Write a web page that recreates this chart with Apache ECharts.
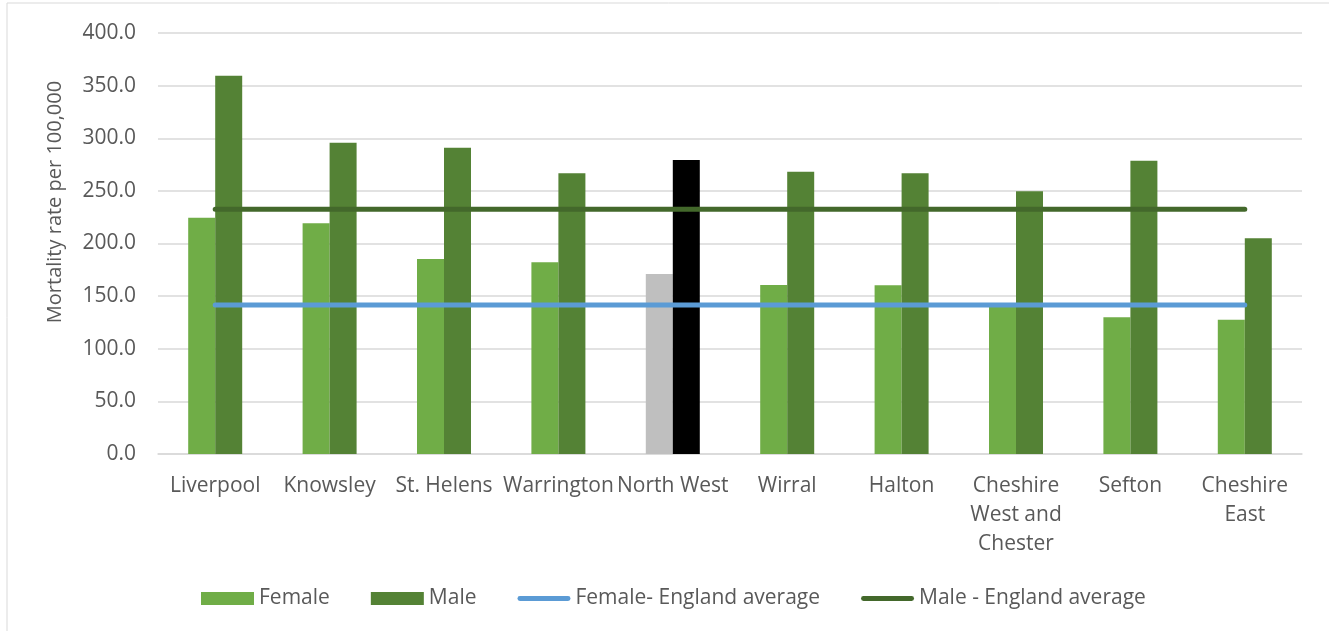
<!DOCTYPE html>
<html>
<head>
<meta charset="utf-8">
<script src="https://cdn.jsdelivr.net/npm/echarts@6/dist/echarts.min.js"></script>
<style>
  html, body { margin: 0; padding: 0; background: #fff; }
  #main { width: 1329px; height: 631px; }
</style>
</head>
<body>
<div id="main"></div>
<script>
// areas, left to right as in the source chart
var categories = ['Liverpool', 'Knowsley', 'St. Helens', 'Warrington', 'North West',
                  'Wirral', 'Halton', 'Cheshire West and Chester', 'Sefton', 'Cheshire East'];
var femaleRate = [224.5, 219.2, 185.3, 182.1, 171.0, 160.6, 160.3, 142.0, 129.9, 127.6];
var maleRate   = [359.4, 295.8, 291.0, 266.7, 279.3, 268.2, 266.7, 249.6, 278.7, 204.9];
var femaleEngland = [141.6, 141.6, 141.6, 141.6, 141.6, 141.6, 141.6, 141.6, 141.6, 141.6];
var maleEngland   = [232.6, 232.6, 232.6, 232.6, 232.6, 232.6, 232.6, 232.6, 232.6, 232.6];
var yTicks = { min: 0, max: 400, interval: 50 };

var FONT = 'Open Sans';
var TEXT = '#595959';
var highlight = 'North West';   // regional figure drawn grey / black
// flat bar with round ends for the line entries of the legend
var lineIcon = 'path://M2.5,0 L52.5,0 A2.5,2.5 0 0 1 52.5,5 L2.5,5 A2.5,2.5 0 0 1 2.5,0 Z';

var myChart = echarts.init(document.getElementById('main'));

var femaleData = femaleRate.map(function (v, i) {
    return categories[i] === highlight ? { value: v, itemStyle: { color: '#BFBFBF' } } : v;
});
var maleData = maleRate.map(function (v, i) {
    return categories[i] === highlight ? { value: v, itemStyle: { color: '#000000' } } : v;
});

var option = {
    backgroundColor: '#fff',
    animation: false,
    textStyle: { fontFamily: FONT },
    grid: { left: 158, right: 27, top: 33, bottom: 177 },
    graphic: [
        {
            type: 'rect',
            shape: { x: 7, y: 3, width: 1400, height: 700 },
            style: { fill: 'none', stroke: '#D9D9D9', lineWidth: 1 },
            silent: true
        },
        {
            type: 'text',
            x: 55, y: 202,
            rotation: Math.PI / 2,
            style: {
                text: 'Mortality rate per 100,000',
                fill: TEXT,
                font: '20px "' + FONT + '"',
                align: 'center',
                verticalAlign: 'middle'
            }
        }
    ],
    legend: {
        top: 583,
        left: 196,
        itemWidth: 53,
        itemHeight: 13,
        itemGap: 41,
        textStyle: { color: TEXT, fontSize: 21, fontFamily: FONT },
        data: [
            { name: 'Female', icon: 'rect' },
            { name: 'Male', icon: 'rect' },
            { name: 'Female- England average', icon: lineIcon },
            { name: 'Male - England average', icon: lineIcon }
        ]
    },
    xAxis: {
        type: 'category',
        data: categories,
        axisTick: { show: false },
        axisLine: { lineStyle: { color: '#D9D9D9', width: 1.5 } },
        axisLabel: {
            color: TEXT,
            fontSize: 21,
            fontFamily: FONT,
            margin: 18,
            lineHeight: 29,
            interval: 0,
            formatter: function (v) {
                if (v === 'Cheshire West and Chester') return 'Cheshire\nWest and\nChester';
                if (v === 'Cheshire East') return 'Cheshire\nEast';
                return v;
            }
        }
    },
    yAxis: {
        type: 'value',
        min: yTicks.min,
        max: yTicks.max,
        interval: yTicks.interval,
        axisLine: { show: false },
        axisTick: { show: false },
        splitLine: { lineStyle: { color: '#D9D9D9', width: 1.5 } },
        axisLabel: {
            color: TEXT,
            fontSize: 21,
            fontFamily: FONT,
            margin: 22,
            formatter: function (v) { return v.toFixed(1); }
        }
    },
    series: [
        {
            name: 'Female',
            type: 'bar',
            barWidth: 27,
            barGap: '0%',
            itemStyle: { color: '#70AD47' },
            data: femaleData
        },
        {
            name: 'Male',
            type: 'bar',
            barWidth: 27,
            barGap: '0%',
            itemStyle: { color: '#548235' },
            data: maleData
        },
        {
            name: 'Female- England average',
            type: 'line',
            symbol: 'none',
            z: 5,
            itemStyle: { color: '#5B9BD5' },
            lineStyle: { color: '#5B9BD5', width: 5, cap: 'round' },
            data: femaleEngland
        },
        {
            name: 'Male - England average',
            type: 'line',
            symbol: 'none',
            z: 5,
            itemStyle: { color: '#43682B' },
            lineStyle: { color: '#43682B', width: 5, cap: 'round' },
            data: maleEngland
        }
    ]
};

myChart.setOption(option);
</script>
</body>
</html>
